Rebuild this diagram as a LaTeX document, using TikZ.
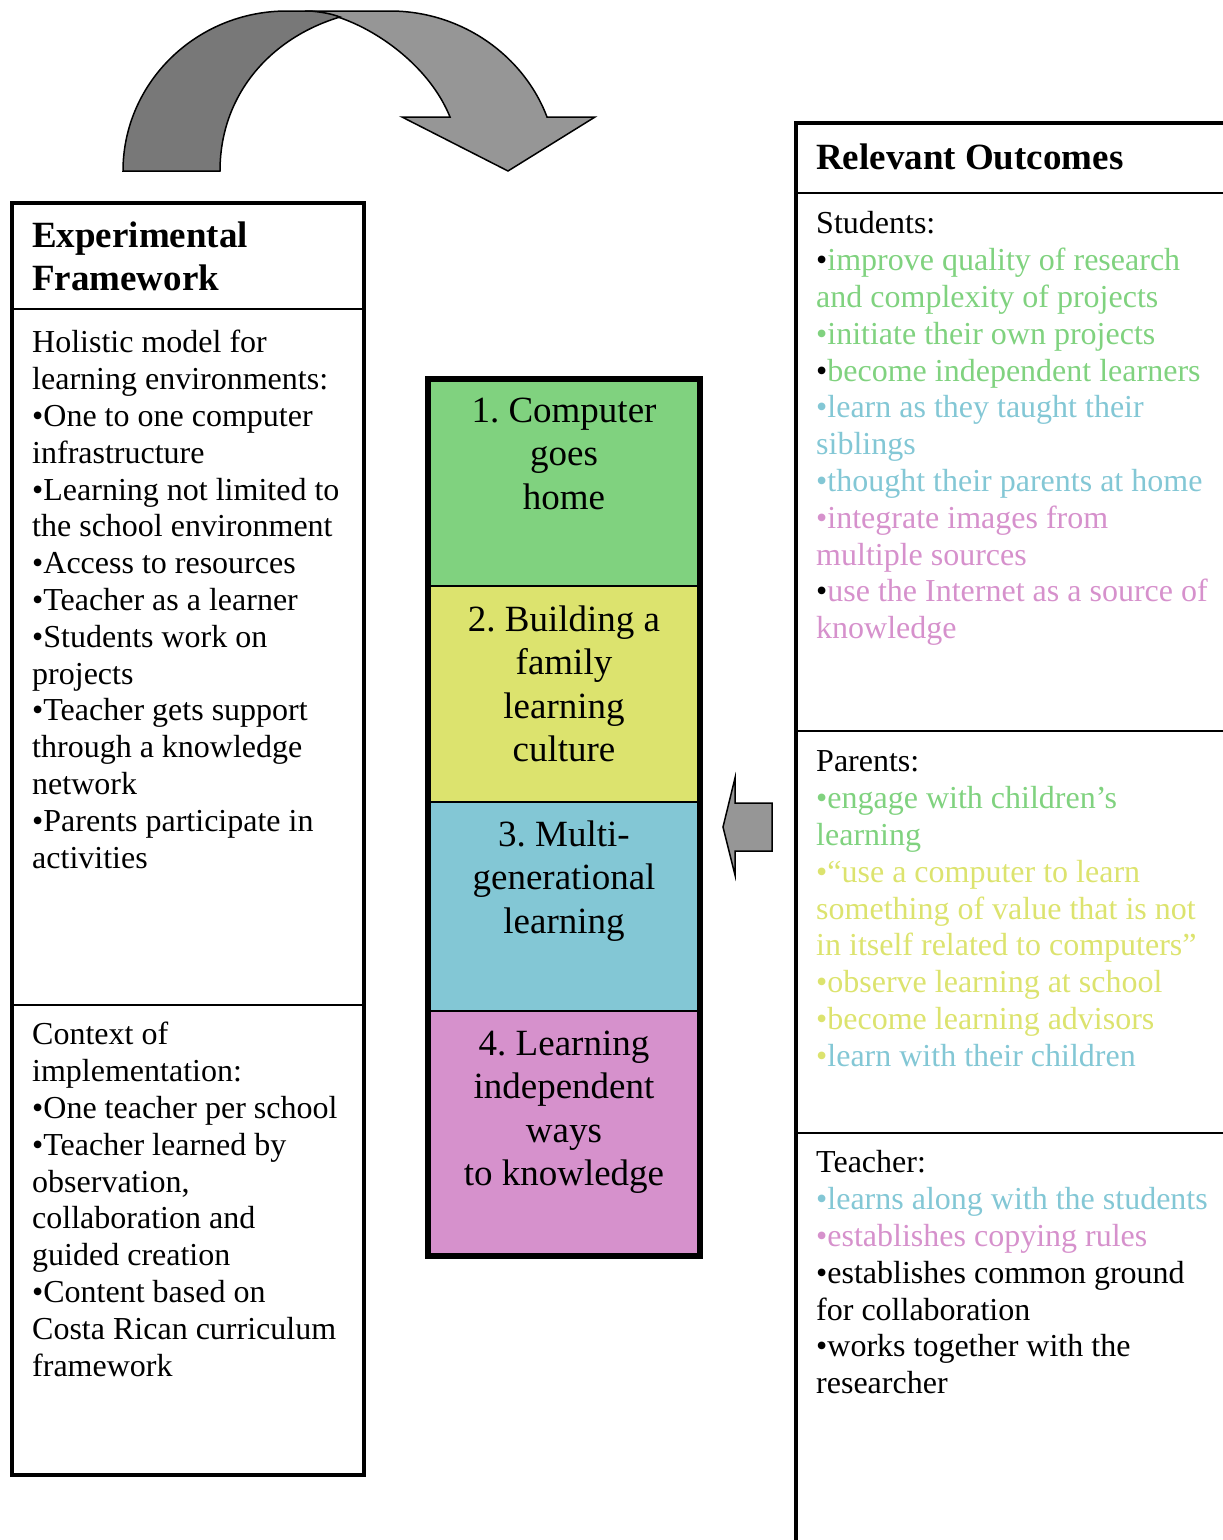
\documentclass[tikz,border=0pt]{standalone}
\usepackage{fontspec}
\setmainfont{Liberation Serif}
\usetikzlibrary{positioning}
\frenchspacing
\definecolor{stagegreen}{HTML}{80D27F}
\definecolor{stageyellow}{HTML}{DCE36E}
\definecolor{stageblue}{HTML}{83C7D5}
\definecolor{stagepink}{HTML}{D691CC}
\definecolor{darkarrow}{HTML}{787878}
\definecolor{lightarrow}{HTML}{969696}

\begin{document}
\begin{tikzpicture}[x=1pt,y=-1pt,
    body/.style={anchor=north west,inner sep=0pt,align=left,font=\fontsize{32}{36.8}\selectfont},
    heading/.style={anchor=north west,inner sep=0pt,align=left,font=\bfseries\fontsize{37}{43}\selectfont},
    stagetext/.style={anchor=north,inner sep=0pt,align=center,font=\fontsize{37}{43.4}\selectfont},
    frame/.style={line width=4.8pt},
    divider/.style={line width=2.5pt},
    blockarrow/.style={line width=1.5pt,line join=miter}]
    \useasboundingbox (0,0) rectangle (1223,1540);
    \clip (0,0) rectangle (1223,1540);

    % curved arrow on top
    \filldraw[blockarrow,fill=lightarrow] (305,11) -- (390,11) .. controls (462,11) and (524,56) .. (547,117)
        -- (595,117) -- (508,171) -- (402,117) -- (450,117) .. controls (425,55) and (350,11) .. (305,11) -- cycle;
    \filldraw[blockarrow,fill=darkarrow] (123,171) .. controls (123,83) and (196,11) .. (287,11) -- (310,11)
        .. controls (322,12) and (332,14) .. (340,17) .. controls (270,38) and (220,95) .. (220,171) -- cycle;

    % left column
    \draw[frame] (12,203) rectangle (364,1475);
    \draw[divider] (12,309) -- (364,309);
    \draw[divider] (12,1005) -- (364,1005);
    \node[heading] at (32,217) (framehead) {\strut Experimental\\Framework};
    \node[body] at (32,327) (holistic) {\strut Holistic model for\\learning environments:\\
        •One to one computer\\infrastructure\\•Learning not limited to\\the school environment\\
        •Access to resources\\•Teacher as a learner\\•Students work on\\projects\\
        •Teacher gets support\\through a knowledge\\network\\•Parents participate in\\activities};
    \node[body] at (32,1019) (context) {\strut Context of\\implementation:\\•One teacher per school\\
        •Teacher learned by\\observation,\\collaboration and\\guided creation\\
        •Content based on\\Costa Rican curriculum\\framework};

    % stages
    \fill[stagegreen] (428,379) rectangle (700,586);
    \fill[stageyellow] (428,586) rectangle (700,802);
    \fill[stageblue] (428,802) rectangle (700,1011);
    \fill[stagepink] (428,1011) rectangle (700,1256);
    \draw[line width=2pt] (428,586) -- (700,586) (428,802) -- (700,802) (428,1011) -- (700,1011);
    \draw[line width=5.5pt] (428,379) rectangle (700,1256);
    \node[stagetext] at (564,392) (stageone) {\strut 1. Computer\\goes\\home};
    \node[stagetext] at (564,601) (stagetwo) {\strut 2. Building a\\family\\learning\\culture};
    \node[stagetext] at (564,816) (stagethree) {\strut 3. Multi-\\generational\\learning};
    \node[stagetext] at (564,1025) (stagefour) {\strut 4. Learning\\independent\\ways\\to knowledge};

    % arrow back to the stages
    \filldraw[blockarrow,fill=lightarrow] (723,827) -- (735,778) -- (735,803) -- (772,803)
        -- (772,851) -- (735,851) -- (735,875) -- cycle;

    % outcomes
    \draw[frame] (796,1550) -- (796,123) -- (1235,123);
    \draw[divider] (796,193) -- (1235,193);
    \draw[divider] (796,731) -- (1235,731);
    \draw[divider] (796,1133) -- (1235,1133);
    \node[heading] at (816,139) (outhead) {\strut Relevant Outcomes};
    \node[body] at (816,208) (students) {\strut Students:\\
        •\textcolor{stagegreen}{improve quality of research}\\
        \textcolor{stagegreen}{and complexity of projects}\\
        \textcolor{stagegreen}{•initiate their own projects}\\
        •\textcolor{stagegreen}{become independent learners}\\
        \textcolor{stageblue}{•learn as they taught their}\\
        \textcolor{stageblue}{siblings}\\
        \textcolor{stageblue}{•thought their parents at home}\\
        \textcolor{stagepink}{•integrate images from}\\
        \textcolor{stagepink}{multiple sources}\\
        •\textcolor{stagepink}{use the Internet as a source of}\\
        \textcolor{stagepink}{knowledge}};
    \node[body] at (816,746) (parents) {\strut Parents:\\
        \textcolor{stagegreen}{•engage with children’s}\\
        \textcolor{stagegreen}{learning}\\
        \textcolor{stageyellow}{•“use a computer to learn}\\
        \textcolor{stageyellow}{something of value that is not}\\
        \textcolor{stageyellow}{in itself related to computers”}\\
        \textcolor{stageyellow}{•observe learning at school}\\
        \textcolor{stageyellow}{•become learning advisors}\\
        \textcolor{stageyellow}{•}\textcolor{stageblue}{learn with their children}};
    \node[body] at (816,1147) (teacher) {\strut Teacher:\\
        \textcolor{stageblue}{•learns along with the students}\\
        \textcolor{stagepink}{•establishes copying rules}\\
        •establishes common ground\\for collaboration\\
        •works together with the\\researcher};
\end{tikzpicture}
\end{document}
